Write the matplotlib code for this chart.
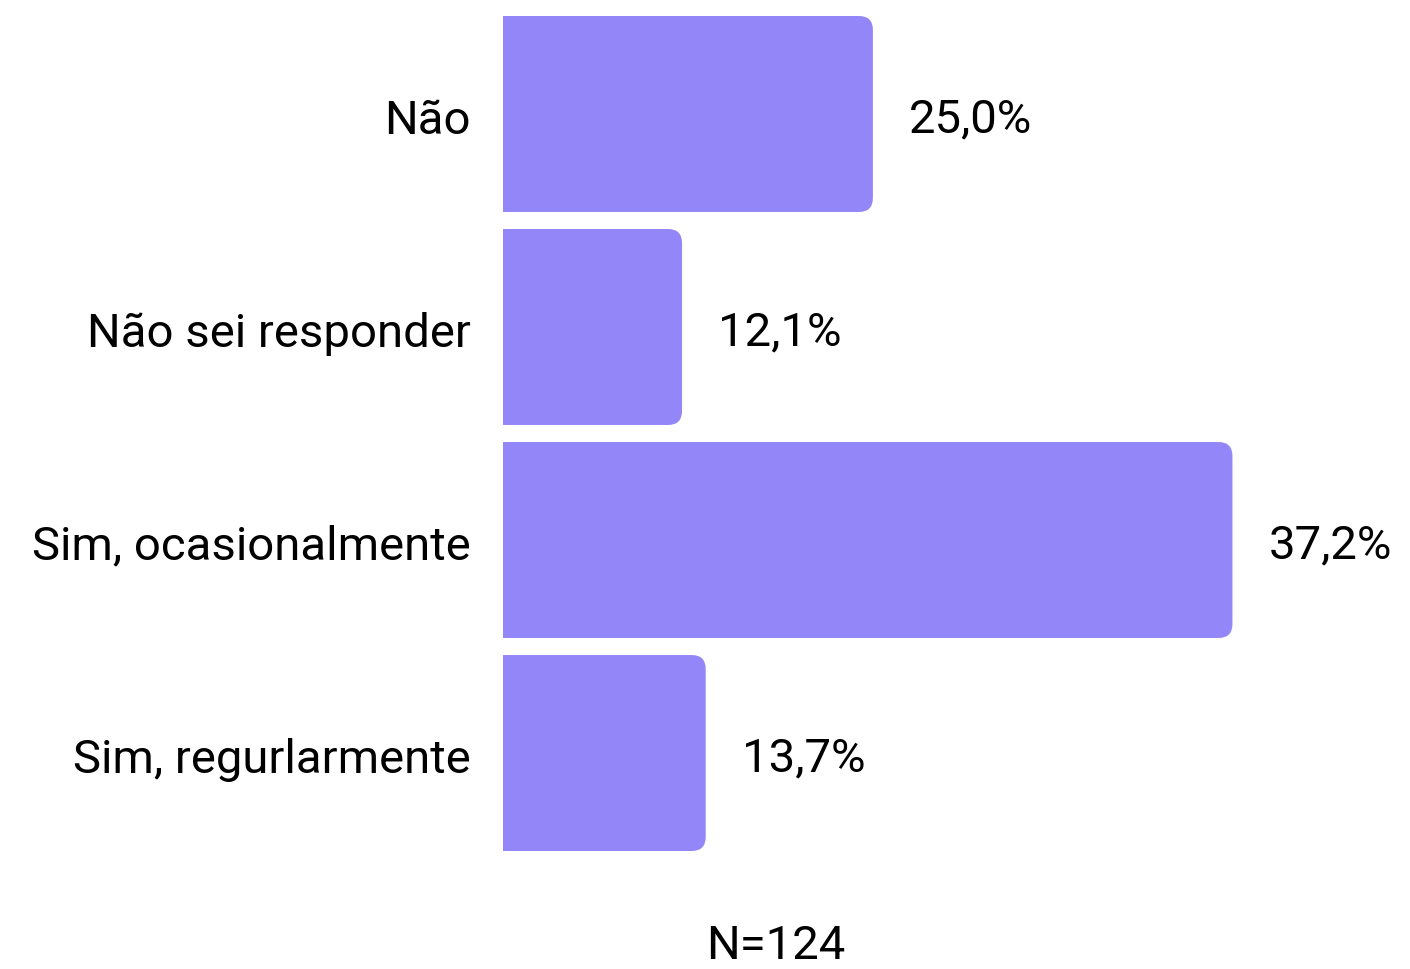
import matplotlib
matplotlib.use("Agg")
import matplotlib.pyplot as plt
from matplotlib.patches import FancyBboxPatch

plt.rcParams['font.family'] = ['Roboto', 'DejaVu Sans']

categories = ['Não', 'Não sei responder', 'Sim, ocasionalmente', 'Sim, regurlarmente']
value_labels = ['25,0%', '12,1%', '37,2%', '13,7%']
# bar lengths as drawn in the picture (the 37,2% bar is drawn longer than its label)
bar_lengths = [25.0, 12.1, 49.3, 13.7]
note = 'N=124'

bar_color = '#9386F9'
font_size = 34

fig = plt.figure(figsize=(14.1, 9.7), dpi=100)
ax = fig.add_axes([503 / 1410, 118 / 970, 907 / 1410, 835 / 970])
ax.set_xlim(0, 61.3)
ax.set_ylim(len(categories) - 1 + 0.46, -0.46)
bar_h = 0.92
radius = 14  # px

fig.canvas.draw()
for i, (v, lab) in enumerate(zip(bar_lengths, value_labels)):
    (x0, y0) = ax.transData.transform((0, i + bar_h / 2))
    (x1, y1) = ax.transData.transform((v, i - bar_h / 2))
    x0 -= radius * 2
    p = FancyBboxPatch((x0 + radius, y0 + radius), (x1 - x0) - 2 * radius, (y1 - y0) - 2 * radius,
                       boxstyle=f'round,pad={radius},rounding_size={radius}',
                       transform=None, facecolor=bar_color, edgecolor='none')
    p.set_clip_path(ax.patch)
    ax.add_artist(p)
    ax.annotate(lab, xy=(v, i), xytext=(26, -3), textcoords='offset points',
                ha='left', va='center', fontsize=font_size, color='black')
    # category label left of the bar
    ax.annotate(categories[i], xy=(0, i), xytext=(-23, -4), textcoords='offset points',
                ha='right', va='center', fontsize=font_size, color='black',
                annotation_clip=False)

ax.set_xticks([])
ax.set_yticks([])
for s in ax.spines.values():
    s.set_visible(False)

fig.text(776 / 1410, 2 / 970, note, ha='center', va='bottom', fontsize=font_size)

fig.savefig('out.png', dpi=100)
